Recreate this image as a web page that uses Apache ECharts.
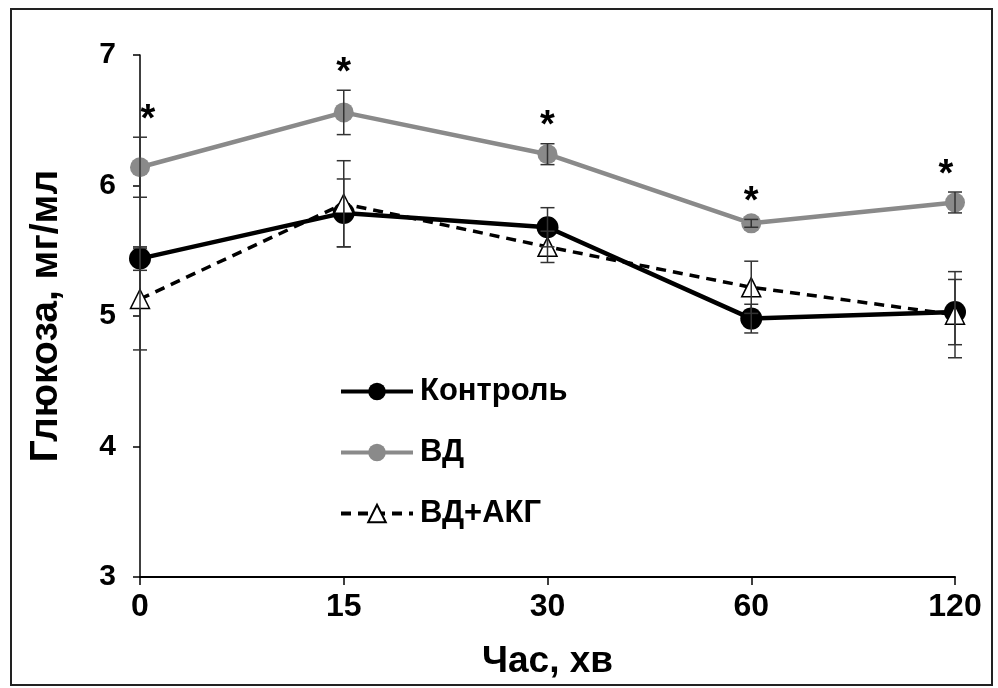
<!DOCTYPE html>
<html><head><meta charset="utf-8">
<script src="https://cdn.jsdelivr.net/npm/echarts@6/dist/echarts.min.js"></script>
<style>html,body{margin:0;padding:0;background:#fff}#c{width:998px;height:688px}</style>
</head><body><div id="c"></div>
<script>
const categories = ['0', '15', '30', '60', '120'];
const yTicks = [3, 4, 5, 6, 7];
const control = [5.44, 5.79, 5.68, 4.98, 5.03];
const controlErr = [0.09, 0.26, 0.15, 0.11, 0.25];
const vd = [6.14, 6.56, 6.24, 5.71, 5.87];
const vdErr = [0.23, 0.17, 0.08, 0.03, 0.08];
const vdakg = [5.13, 5.86, 5.53, 5.22, 5.01];
const vdakgErr = [0.39, 0.33, 0.12, 0.20, 0.33];
const vdStars = ['*', '*', '*', '*', '*'];

const wide = "'Liberation Sans',Arial,sans-serif";

function errData(vals, errs) { return vals.map((v, i) => [i, v, errs[i]]); }
function errRender(params, api) {
  const x = api.value(0), v = api.value(1), e = api.value(2);
  const top = api.coord([x, v + e]);
  const bot = api.coord([x, v - e]);
  const w = 7;
  const st = { stroke: '#333', lineWidth: 1.5 };
  return { type: 'group', children: [
    { type: 'line', shape: { x1: top[0], y1: top[1], x2: bot[0], y2: bot[1] }, style: st },
    { type: 'line', shape: { x1: top[0] - w, y1: top[1], x2: top[0] + w, y2: top[1] }, style: st },
    { type: 'line', shape: { x1: bot[0] - w, y1: bot[1], x2: bot[0] + w, y2: bot[1] }, style: st }
  ]};
}
const starDx = [8, 0, 0, 0, -9];
function starRender(params, api) {
  const i = api.value(0), v = api.value(1), e = api.value(2);
  const p = api.coord([i, v + e]);
  return { type: 'text', x: p[0] + starDx[i], y: p[1] + 2,
    style: { text: vdStars[i], fontSize: 38, fontWeight: 'bold', fontFamily: wide, fill: '#000',
      align: 'center', verticalAlign: 'bottom' } };
}

const chart = echarts.init(document.getElementById('c'));
chart.setOption({
  backgroundColor: '#fff',
  animation: false,
  graphic: [{ type: 'rect', shape: { x: 11, y: 9, width: 981, height: 676 },
    style: { fill: 'none', stroke: '#222', lineWidth: 2 }, z: -1 }],
  grid: { left: 140, right: 43, top: 55, bottom: 111, containLabel: false, outerBoundsMode: 'none' },
  legend: {
    orient: 'vertical', left: 334, top: 371,
    itemWidth: 72, itemHeight: 22, itemGap: 30,
    data: ['Контроль', 'ВД', 'ВД+АКГ'],
    lineStyle: { width: 4 },
    textStyle: { fontSize: 31, fontWeight: 'bold', fontFamily: wide, color: '#000', padding: [0, 0, 0, 2] }
  },
  xAxis: {
    type: 'category', data: categories, boundaryGap: false,
    name: 'Час, хв', nameLocation: 'middle', nameGap: 66,
    nameTextStyle: { fontSize: 37, fontWeight: 'bold', fontFamily: wide, color: '#000' },
    axisLine: { lineStyle: { color: '#000', width: 2 } },
    axisTick: { alignWithLabel: true, length: 8, lineStyle: { color: '#000', width: 1.5 } },
    axisLabel: { fontSize: 32, fontWeight: 'bold', fontFamily: wide, color: '#000', margin: 14 },
    splitLine: { show: false }
  },
  yAxis: {
    type: 'value', min: yTicks[0], max: yTicks[yTicks.length - 1], interval: 1,
    name: 'Глюкоза, мг/мл', nameLocation: 'middle', nameGap: 74,
    nameTextStyle: { fontSize: 39, fontWeight: 'bold', fontFamily: wide, color: '#000' },
    axisLine: { show: true, lineStyle: { color: '#000', width: 1.5 } },
    axisTick: { show: true, length: 7, lineStyle: { color: '#000', width: 1.5 } },
    axisLabel: { fontSize: 30, fontWeight: 'bold', fontFamily: wide, color: '#000', margin: 24 },
    splitLine: { show: false }
  },
  series: [
    { name: 'ВД', type: 'line', data: vd, symbol: 'circle', symbolSize: 20,
      lineStyle: { color: '#8a8a8a', width: 4.5 }, itemStyle: { color: '#8a8a8a' }, z: 3 },
    { name: 'Контроль', type: 'line', data: control, symbol: 'circle', symbolSize: 22,
      lineStyle: { color: '#000', width: 4.5 }, itemStyle: { color: '#000' }, z: 4 },
    { name: 'ВД+АКГ', type: 'line', data: vdakg, symbol: 'triangle', symbolSize: 19,
      lineStyle: { color: '#000', width: 3.5, type: [10, 7] },
      itemStyle: { color: '#fff', borderColor: '#000', borderWidth: 1.5 }, z: 5 },
    { type: 'custom', renderItem: errRender, data: errData(vd, vdErr), z: 6, silent: true },
    { type: 'custom', renderItem: errRender, data: errData(control, controlErr), z: 6, silent: true },
    { type: 'custom', renderItem: errRender, data: errData(vdakg, vdakgErr), z: 6, silent: true },
    { type: 'custom', renderItem: starRender, data: errData(vd, vdErr), z: 7, silent: true }
  ]
});
</script></body></html>
